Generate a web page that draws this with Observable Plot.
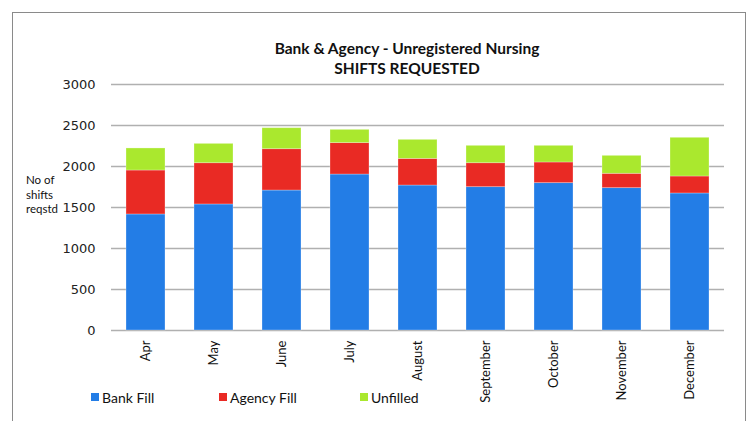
<!DOCTYPE html>
<html><head><meta charset="utf-8">
<script src="https://cdn.jsdelivr.net/npm/d3@7"></script>
<script src="https://cdn.jsdelivr.net/npm/@observablehq/plot@0.6"></script>
<style>html,body{margin:0;padding:0;background:#fff;} svg{display:block;}</style>
</head><body><div id="chart"></div>
<script>
const months = ["Apr","May","June","July","August","September","October","November","December"];
const bankFill = [1415,1537,1707,1902,1768,1748,1797,1736,1671];
const agencyFill = [536,503,504,383,325,292,252,175,207];
const unfilled = [269,236,256,162,232,212,203,219,472];
const seriesNames = ["Bank Fill","Agency Fill","Unfilled"];
const seriesColors = ["#237de6","#e92a24","#aae82e"];
const yTicks = [0,500,1000,1500,2000,2500,3000];
const titleLines = ["Bank & Agency - Unregistered Nursing","SHIFTS REQUESTED"];
const yLabelLines = ["No of","shifts","reqstd"];

const seriesValues = [bankFill, agencyFill, unfilled];
const data = months.flatMap((m,i)=>seriesNames.map((s,j)=>({month:m, series:s, value:seriesValues[j][i]})));

const plot = Plot.plot({
  width:751, height:421,
  marginTop:84, marginBottom:91, marginLeft:111, marginRight:27,
  style:{fontFamily:"Lato, sans-serif", fontSize:"13px", color:"#111", background:"#fff"},
  x:{domain:months, paddingInner:0.43, paddingOuter:0.2, label:null},
  y:{domain:[0,3000], label:null},
  color:{domain:seriesNames, range:seriesColors},
  marks:[
    Plot.gridY(yTicks,{stroke:"#b0b0b0", strokeOpacity:1, strokeWidth:1.3}),
    Plot.barY(data, Plot.stackY({x:"month", y:"value", fill:"series", stroke:"#fff", strokeOpacity:0.35, strokeWidth:0.8})),
    Plot.axisY(yTicks,{tickSize:0, tickPadding:16, label:null, tickFormat:d3.format("d"), fontFamily:"DejaVu Sans, sans-serif", fontSize:13, fill:"#222"}),
    Plot.axisX({tickSize:0, tickPadding:10, tickRotate:-90, label:null, fontSize:13, fill:"#111"})
  ]
});
document.getElementById("chart").appendChild(plot);

const svg = d3.select(plot);
// outer border
svg.append("rect").attr("x",12.5).attr("y",12.5).attr("width",733).attr("height",440)
  .attr("fill","none").attr("stroke","#8a8a8a").attr("stroke-width",1);
// title
const t = svg.append("text").attr("text-anchor","middle")
  .style("font-family","Lato, sans-serif").style("font-weight","bold").style("font-size","15.5px").attr("fill","#111");
titleLines.forEach((line,i)=>t.append("tspan").attr("x",407).attr("y",54+i*20).text(line));
// y label
const yl = svg.append("text").attr("text-anchor","start").style("font-family","Lato, sans-serif").style("font-size","11.5px").attr("fill","#111");
yLabelLines.forEach((line,i)=>yl.append("tspan").attr("x",26).attr("y",184+i*14.5).text(line));
// legend
const legendX = [91,219,360];
seriesNames.forEach((s,i)=>{
  svg.append("rect").attr("x",legendX[i]).attr("y",393).attr("width",8).attr("height",8).attr("fill",seriesColors[i]);
  svg.append("text").attr("text-anchor","start").attr("x",legendX[i]+11).attr("y",402.5)
    .style("font-family","Lato, sans-serif").style("font-size","14px").attr("fill","#111").text(s);
});
</script></body></html>
